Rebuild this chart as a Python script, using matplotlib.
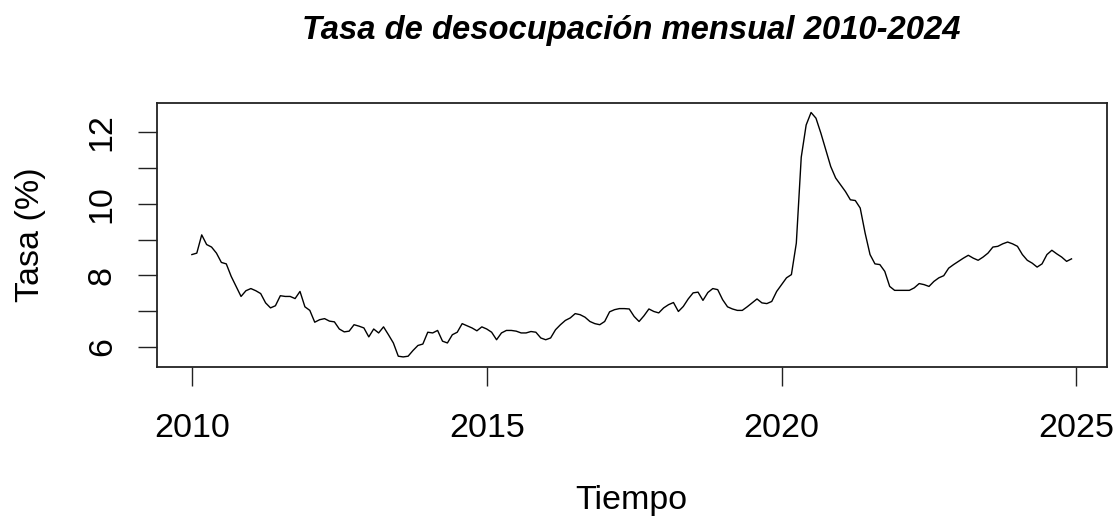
import numpy as np
import matplotlib.pyplot as plt

plt.rcParams['font.family'] = ['Liberation Sans', 'DejaVu Sans']

# tasa de desocupacion mensual, enero 2010 - diciembre 2024
tasa = [
    8.58, 8.62, 9.13, 8.86, 8.79, 8.62, 8.36, 8.32, 7.97, 7.69, 7.41, 7.57,
    7.63, 7.57, 7.49, 7.23, 7.09, 7.15, 7.43, 7.41, 7.41, 7.35, 7.55, 7.12,
    7.02, 6.69, 6.76, 6.79, 6.72, 6.70, 6.50, 6.42, 6.44, 6.62, 6.58, 6.53,
    6.28, 6.50, 6.39, 6.56, 6.34, 6.11, 5.74, 5.72, 5.74, 5.90, 6.04, 6.08,
    6.41, 6.39, 6.46, 6.16, 6.11, 6.34, 6.41, 6.65, 6.59, 6.53, 6.45, 6.56,
    6.50, 6.41, 6.20, 6.39, 6.46, 6.46, 6.44, 6.39, 6.39, 6.43, 6.41, 6.25,
    6.20, 6.25, 6.48, 6.62, 6.74, 6.81, 6.93, 6.90, 6.83, 6.71, 6.65, 6.62,
    6.71, 6.98, 7.04, 7.07, 7.07, 7.06, 6.85, 6.71, 6.87, 7.06, 6.99, 6.95,
    7.09, 7.18, 7.24, 6.99, 7.13, 7.34, 7.51, 7.53, 7.30, 7.52, 7.63, 7.60,
    7.32, 7.12, 7.06, 7.02, 7.02, 7.12, 7.23, 7.34, 7.23, 7.21, 7.27, 7.55,
    7.74, 7.93, 8.02, 8.90, 11.30, 12.20, 12.55, 12.39, 11.97, 11.51, 11.04, 10.72,
    10.53, 10.34, 10.11, 10.09, 9.88, 9.18, 8.58, 8.32, 8.30, 8.11, 7.69, 7.58,
    7.58, 7.58, 7.58, 7.65, 7.77, 7.74, 7.69, 7.83, 7.93, 7.99, 8.20, 8.30,
    8.39, 8.48, 8.56, 8.48, 8.42, 8.51, 8.62, 8.79, 8.81, 8.88, 8.93, 8.88,
    8.81, 8.58, 8.42, 8.34, 8.23, 8.32, 8.58, 8.70, 8.60, 8.51, 8.39, 8.46,
]
tiempo = 2010 + np.arange(len(tasa)) / 12.0

xticks = [2010, 2015, 2020, 2025]
yticks = [6, 7, 8, 9, 10, 11, 12]
ylabels = ['6', '', '8', '', '10', '', '12']

fig = plt.figure(figsize=(11.13, 5.19), dpi=100)
ax = fig.add_axes([156.7 / 1113, 1 - 366.7 / 519, 950 / 1113, 264 / 519])

ax.plot(tiempo, tasa, color='black', lw=1.0)

# rango al estilo R (4% extra a cada lado)
xr = tiempo[-1] - tiempo[0]
ax.set_xlim(tiempo[0] - 0.04 * xr, tiempo[-1] + 0.04 * xr)
yr = max(tasa) - min(tasa)
ax.set_ylim(min(tasa) - 0.04 * yr, max(tasa) + 0.04 * yr)

ax.set_xticks(xticks)
ax.set_xticklabels([str(t) for t in xticks], fontsize=24.5)
ax.set_yticks(yticks)
ax.set_yticklabels(ylabels, fontsize=24.5, rotation=90, va='center')
ax.tick_params(axis='both', length=13.5, width=1.0, color='#222222')
ax.tick_params(axis='x', pad=19.5)
ax.tick_params(axis='y', pad=14.5)
for s in ax.spines.values():
    s.set_linewidth(1.3)
    s.set_color('#222222')

fig.text(631.7 / 1113, 1 - 31 / 519, 'Tasa de desocupación mensual 2010-2024',
         ha='center', va='center', fontsize=23.6, fontweight='bold', fontstyle='italic')
fig.text(631.7 / 1113, 1 - 500 / 519, 'Tiempo', ha='center', va='center', fontsize=24.5)
fig.text(30 / 1113, 1 - 234.7 / 519, 'Tasa (%)', ha='center', va='center',
         fontsize=24.5, rotation=90)

fig.savefig('out.png', dpi=100)
